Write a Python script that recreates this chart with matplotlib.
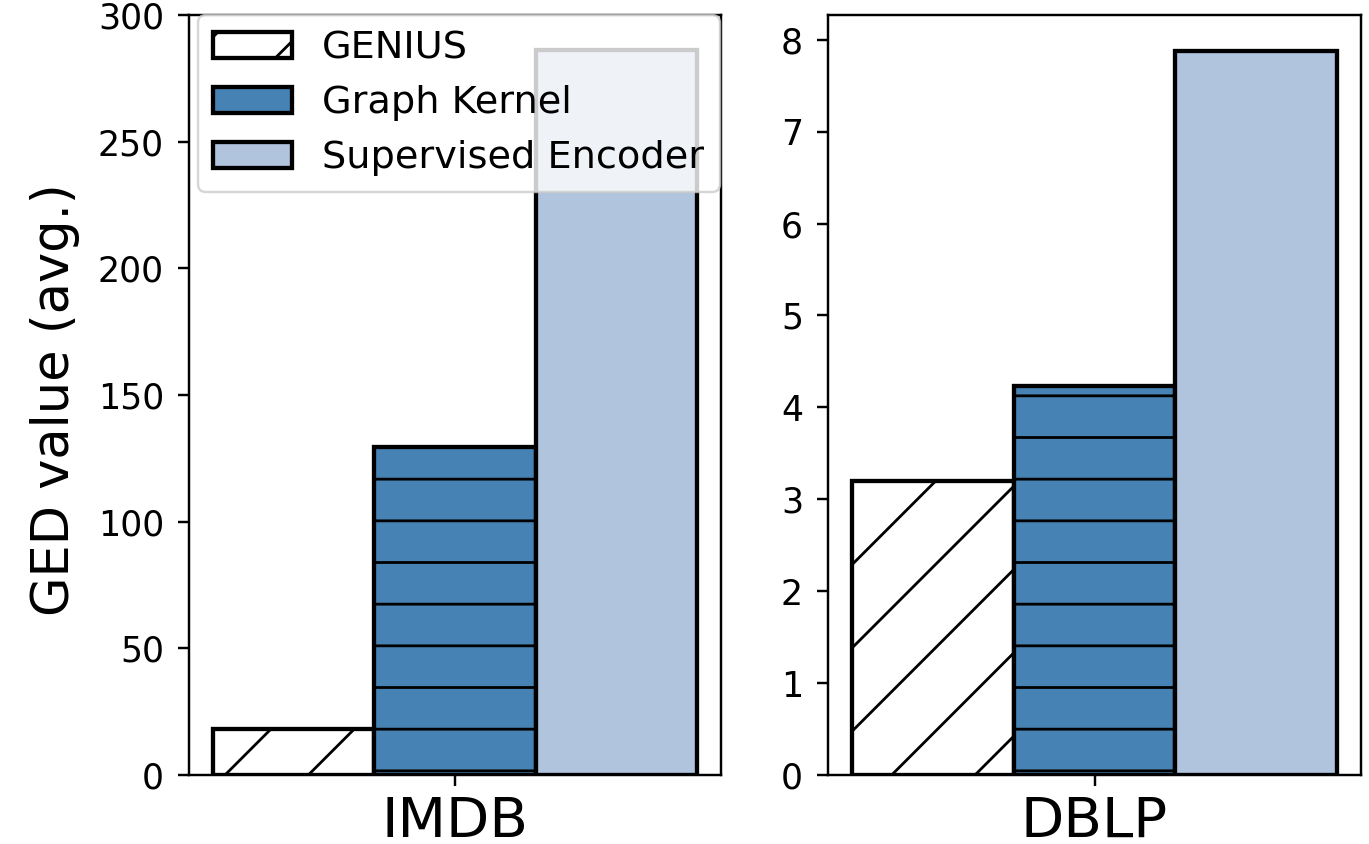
import numpy as np
import matplotlib
matplotlib.use("Agg")
import matplotlib.pyplot as plt

# data
methods = ["GENIUS", "Graph Kernel", "Supervised Encoder"]
datasets = ["IMDB", "DBLP"]
imdb_values = [18.3, 129.6, 286.2]
dblp_values = [3.20, 4.23, 7.876]

colors = ["white", "steelblue", "lightsteelblue"]
hatches = ["//", "--", ""]

# saved at high dpi so the hatch spacing matches the reference
DPI = 500
plt.rcParams["hatch.linewidth"] = 0.4
plt.rcParams["axes.linewidth"] = 0.35
plt.rcParams["xtick.major.size"] = 1.6
plt.rcParams["ytick.major.size"] = 1.6
plt.rcParams["xtick.major.width"] = 0.35
plt.rcParams["ytick.major.width"] = 0.35
plt.rcParams["xtick.major.pad"] = 1.3
plt.rcParams["ytick.major.pad"] = 2.0


def draw_group(ax, values, name):
	width = 1.0
	pos = np.arange(len(values)) * width - width
	for i in range(len(values)):
		ax.bar(pos[i], values[i], width, color=colors[i], hatch=hatches[i],
			edgecolor="black", linewidth=0.62, label=methods[i])
	ax.set_xticks([0])
	ax.set_xticklabels([name], fontsize=8.1)
	ax.tick_params(axis="y", labelsize=5.0)


fig = plt.figure(figsize=(1369 / DPI, 844 / DPI), dpi=DPI)
ax1 = fig.add_axes([189 / 1369, 1 - 775 / 844, (721 - 189) / 1369, (775 - 15) / 844])
ax2 = fig.add_axes([828 / 1369, 1 - 775 / 844, (1361 - 828) / 1369, (775 - 15) / 844])

draw_group(ax1, imdb_values, datasets[0])
ax1.set_ylim(0, 300)
ax1.set_ylabel("GED value (avg.)", fontsize=7.35, labelpad=2.6)
ax1.yaxis.label.set_y(0.494)
leg = ax1.legend(loc="upper left", bbox_to_anchor=(0.017, 1.0), borderaxespad=0,
	fontsize=5.5, handlelength=2.05)
leg.get_frame().set_linewidth(0.35)
# the small kernel swatch shows no stripe in the original
leg.legend_handles[1].set_hatch("")

draw_group(ax2, dblp_values, datasets[1])

fig.savefig("out.png", dpi=DPI)
